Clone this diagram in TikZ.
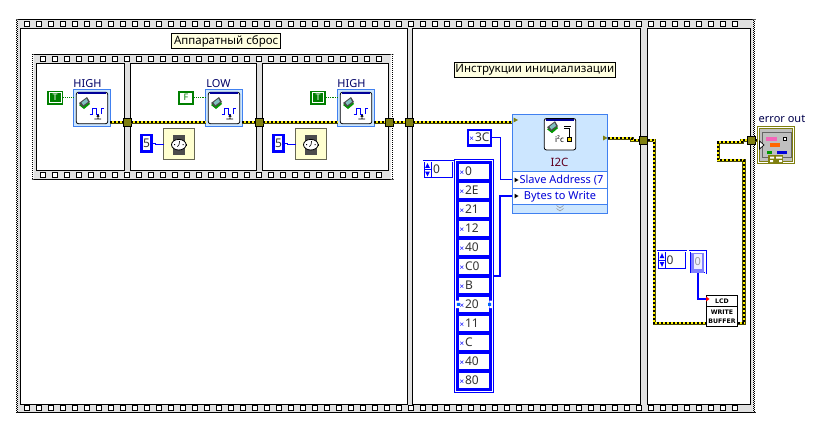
\documentclass[tikz,border=0pt]{standalone}
\usepackage{fontspec}
\setmainfont{Noto Sans}
\newfontfamily\lcdfont{DejaVu Sans}
\usetikzlibrary{positioning}
\definecolor{filmgray}{HTML}{E0E0E0}
\definecolor{tunolive}{HTML}{7F7F10}
\definecolor{frameblue}{HTML}{4080F0}
\definecolor{nodeblue}{HTML}{CCE6FF}
\definecolor{notepale}{HTML}{FFFFE1}
\definecolor{waitpale}{HTML}{FFFFD0}
\definecolor{boolgreen}{HTML}{007F00}
\newcommand{\hx}{\textcolor{blue}{\fontsize{8}{8}\selectfont×}\hspace{1pt}}
\newcommand{\chipglyph}{
    \fill[green!60!black] (-13,-3) -- (-5,-9) -- (-2,-4) -- (-8,1) -- cycle;
    \fill[black!70] (-13,-5) -- (-5,-11) -- (-2,-6) -- (-9,-1) -- cycle;
    \fill[teal!50] (-10.5,-5.5) -- (-5.5,-9.3) -- (-4,-6.2) -- (-8.7,-2.8) -- cycle;
}
\tikzset{
    tun/.style={draw=black, fill=tunolive, line width=0.5pt, minimum size=8.3pt, inner sep=0pt, outer sep=0pt},
    errwire/.style={preaction={draw=tunolive!60!black, solid, line width=3.6pt}, preaction={draw=yellow, solid, line width=2pt}, draw=black, line width=2pt, dash pattern=on 2pt off 2pt},
    numwire/.style={draw=blue, line width=0.9pt},
    arrwire/.style={draw=blue, line width=2pt},
    note/.style={draw=black, fill=notepale, line width=0.9pt, inner sep=0pt, minimum height=15pt, font=\fontsize{11.5}{12}\selectfont},
    vibox/.style={draw=frameblue, fill=nodeblue, line width=1pt, minimum size=36.4pt, inner sep=0pt, outer sep=0pt},
    numconst/.style={draw=blue, fill=white, line width=2.4pt, inner sep=0pt, outer sep=1.2pt, font=\fontsize{12}{12}\selectfont, text=black!80},
    booltrue/.style={draw=boolgreen, double=white, double distance=1pt, line width=1.5pt, fill=boolgreen, minimum width=11.7pt, minimum height=10pt, inner sep=0pt, outer sep=2pt, text=white, font=\fontsize{9}{9}\bfseries\selectfont},
    boolfalse/.style={draw=boolgreen, fill=white, line width=2.2pt, minimum width=13.6pt, minimum height=11.8pt, inner sep=0pt, outer sep=1.1pt, text=boolgreen, font=\fontsize{9}{9}\bfseries\selectfont},
    waitbox/.style={draw=black!60!waitpale, fill=waitpale, line width=1pt, minimum size=30.5pt, inner sep=0pt, outer sep=0pt},
    arrcell/.style={fill=white, minimum width=30pt, minimum height=15.3pt, inner sep=0pt, outer sep=0pt, text width=29.5pt, align=left, font=\fontsize{12}{12}\selectfont, text=black!80},
    indexbox/.style={draw=blue, fill=white, line width=0.7pt, double=white, double distance=0.8pt, inner sep=0pt, outer sep=0pt},
    label/.style={inner sep=0pt, text=black!60!blue, font=\fontsize{11}{11}\selectfont},
    rowbox/.style={draw=frameblue, fill=white, line width=0.9pt, minimum width=95.4pt, inner sep=0pt, outer sep=0pt, text=blue!85!black, font=\fontsize{11}{11}\selectfont},
    lcdbox/.style={draw=black, fill=white, line width=0.9pt, minimum width=31.4pt, inner sep=0pt, outer sep=0pt, align=center, font=\lcdfont\fontsize{6.2}{8.5}\bfseries\selectfont},
    pulseglyph/.pic={
        \draw[black, fill=white, rounded corners=2pt, line width=0.8pt] (-15.7,-15.7) rectangle (15.7,15.7);
        \fill[blue!60!black] (-14,-15.7) rectangle (14,-13.7);
        \chipglyph
        \draw[blue, line width=0.9pt] (-2.4,6) -- (0.5,6) -- (0.5,0.5) -- (4.5,0.5) -- (4.5,6) -- (7,6) (9,6) -- (9,0.5) -- (12.3,0.5);
        \draw[black, line width=0.8pt] (2.3,11) -- (9,11) (6,11) -- (6,7) (4.8,8.5) -- (6,7) -- (7.2,8.5);
    },
    watchglyph/.pic={
        \fill[black!70] (-6.3,-9.5) rectangle (6,10.5);
        \draw[black, fill=white, line width=0.8pt] (-0.2,0.5) ellipse (7.3 and 5.3);
        \fill[black] (7.2,-0.5) rectangle (8.4,1.5);
        \draw[black, line width=0.6pt] (0,0.5) -- (0.6,-3) (0,0.5) -- (-1.6,2.5);
        \fill[black] (-5,0) rectangle (-4,1) (3.5,0) rectangle (4.5,1);
    },
}

\begin{document}
\begin{tikzpicture}[x=1pt, y=-1pt, every node/.style={inner sep=0pt}]
    \useasboundingbox (0,0) rectangle (819,439);
    \fill[white] (0,0) rectangle (819,439);

    % outer film strip
    \fill[filmgray] (16,19.5) rectangle (756,412);
    \draw[black, line width=0.9pt] (16,19.5) -- (756,19.5) (16,412) -- (756,412);
    \fill[white] (16,19.5) rectangle (18,412) (752.5,19.5) rectangle (756,412);
    \draw[black, line width=1pt, dash pattern=on 1pt off 1pt] (16.5,19.5) -- (16.5,412) (753.5,19.5) -- (753.5,412);
    \draw[black, line width=1pt, dash pattern=on 1pt off 1pt, dash phase=1pt] (17.5,19.5) -- (17.5,412) (754.5,19.5) -- (754.5,412);
    \foreach \k in {0,...,59} {
        \draw[black, fill=white, line width=0.8pt] (24.8+12*\k,21.8) rectangle ++(4.4,4.4);
        \draw[black, fill=white, line width=0.8pt] (24.8+12*\k,405.8) rectangle ++(4.4,4.4);
    }
    \draw[black, fill=white, line width=0.9pt] (20.7,28) rectangle (407,404);
    \draw[black, fill=white, line width=0.9pt] (412.3,28) rectangle (640,404);
    \draw[black, fill=white, line width=0.9pt] (647.5,28) rectangle (750.7,404);

    % inner film strip
    \fill[filmgray] (31.7,54.3) rectangle (394,179.3);
    \draw[black, line width=0.9pt] (31.7,54.3) -- (394,54.3) (31.7,179.3) -- (394,179.3);
    \fill[white] (31.7,54.3) rectangle (33.5,179.3) (390.5,54.3) rectangle (394,179.3);
    \draw[black, line width=1pt, dash pattern=on 1pt off 1pt] (32.2,54.3) -- (32.2,179.3) (392,54.3) -- (392,179.3);
    \foreach \k in {0,...,28} {
        \draw[black, fill=white, line width=0.8pt] (40.8+12*\k,56.5) rectangle ++(4.4,4.4);
        \draw[black, fill=white, line width=0.8pt] (40.8+12*\k,172.5) rectangle ++(4.4,4.4);
    }
    \draw[black, fill=white, line width=0.9pt] (36,63.3) rectangle (124.3,170.7);
    \draw[black, fill=white, line width=0.9pt] (130,63.3) rectangle (256.7,170.7);
    \draw[black, fill=white, line width=0.9pt] (262.3,63.3) rectangle (388.3,170.7);

    \node[note, minimum width=109pt] (note_reset) at (226.2,41.3) {Аппаратный сброс};
    \node[note, minimum width=161pt] (note_init) at (534.8,69.7) {Инструкции инициализации};

    % digital write
    \node[vibox] (vi_high1) at (92,108) {};
    \node[vibox] (vi_low) at (224,108) {};
    \node[vibox] (vi_high2) at (356,108) {};
    \pic at (vi_high1) {pulseglyph};
    \pic at (vi_low) {pulseglyph};
    \pic at (vi_high2) {pulseglyph};
    \node[label, above=2pt of vi_high1, xshift=-4.5pt] (lab_high1) {HIGH};
    \node[label, above=2pt of vi_low, xshift=-5.5pt] (lab_low) {LOW};
    \node[label, above=2pt of vi_high2, xshift=-4.5pt] (lab_high2) {HIGH};

    \node[booltrue] (bool_t1) at (55.2,97.7) {T};
    \node[boolfalse] (bool_f) at (186,97.7) {F};
    \node[booltrue] (bool_t2) at (318,97.7) {T};
    \draw[boolgreen, line width=0.9pt, densely dotted] (bool_t1) -- (vi_high1.west |- bool_t1);
    \draw[boolgreen, line width=0.9pt, densely dotted] (bool_f) -- (vi_low.west |- bool_f);
    \draw[boolgreen, line width=0.9pt, densely dotted] (bool_t2) -- (vi_high2.west |- bool_t2);

    % tunnels
    \node[tun] (tun_a) at (127.3,122.3) {};
    \node[tun] (tun_b) at (259.3,122.3) {};
    \node[tun] (tun_c) at (389.3,122.3) {};
    \node[tun] (tun_d) at (409.3,122.3) {};
    \node[tun] (tun_e) at (643.5,140.4) {};
    \node[tun] (tun_f) at (751.3,140.4) {};

    % wait
    \node[numconst, minimum width=9.8pt, minimum height=16.2pt] (num_5a) at (146.5,143.3) {5};
    \node[numconst, minimum width=9.8pt, minimum height=16.2pt] (num_5b) at (278.5,143.3) {5};
    \node[waitbox] (wait_a) at (179,144.2) {};
    \node[waitbox] (wait_b) at (311,144.2) {};
    \pic at (wait_a) {watchglyph};
    \pic at (wait_b) {watchglyph};
    \draw[numwire] (num_5a.east) -- ++(3,0) |- (wait_a.west);
    \draw[numwire] (num_5b.east) -- ++(3,0) |- (wait_b.west);

    % i2c node
    \node[draw=frameblue, fill=nodeblue, line width=1pt, minimum width=95.4pt, minimum height=99.4pt, outer sep=0pt] (i2c_box) at (560,164) {};
    \node[rowbox, minimum height=17.2pt] (row_addr) at (560,179.7) {\hspace{3pt}Slave Address (7};
    \node[rowbox, minimum height=16pt, below=0pt of row_addr] (row_bytes) {Bytes to Write};
    \node[draw=black, fill=white, rounded corners=2pt, line width=0.8pt, minimum size=31.4pt, outer sep=0pt] (i2c_ico) at (560,134.2) {};
    \fill[blue!60!black] (546,118.5) rectangle (574,120.5);
    \begin{scope}[shift={(560,132.2)}]
        \chipglyph
    \end{scope}
    \node[font=\fontsize{8}{8}\selectfont] at (559.5,139.5) (i2c_txt) {i²c};
    \draw[black, line width=2.2pt] (564,127.5) -- (570,127.5) -- (570,137);
    \draw[white, line width=0.9pt] (564,127.5) -- (570,127.5) -- (570,137);
    \draw[black, fill=yellow!80!orange, line width=0.6pt] (567.5,137.5) rectangle (571.5,141.5);
    \node[label, font=\fontsize{11.5}{12}\selectfont, text=black!50!purple] (lab_i2c) at (559.5,162.5) {I2C};
    \draw[black!45, line width=0.5pt] (556.5,205.5) -- (560,208) -- (563.5,205.5) (556.5,208.5) -- (560,211) -- (563.5,208.5);
    \fill[tunolive] (513.5,117.5) -- (518,120) -- (513.5,122.5) -- cycle;
    \fill[tunolive] (603,135.5) -- (607.5,138) -- (603,140.5) -- cycle;
    \fill[black] (514.5,177.7) -- (518.5,180) -- (514.5,182.3) -- cycle;
    \fill[black] (514.5,193.7) -- (518.5,196) -- (514.5,198.3) -- cycle;

    % array of bytes
    \node[numconst, minimum width=23.2pt, minimum height=15.6pt] (num_3c) at (479.5,137.7) {\hx 3C};
    \node[indexbox, minimum width=29.1pt, minimum height=17.1pt] (idx_bytes) at (438.4,169.7) {};
    \node[font=\fontsize{12}{12}\selectfont, text=black!80] (idx_val) at (436.5,169.7) {0};
    \draw[blue, line width=0.7pt] (431,161.5) -- (431,178) (424,169.7) -- (431,169.7);
    \fill[blue] (427.5,163) -- (429.8,167.8) -- (425.2,167.8) -- cycle (427.5,176.5) -- (429.8,171.7) -- (425.2,171.7) -- cycle;
    \node[draw=blue, fill=white, line width=0.7pt, minimum width=39pt, minimum height=232.6pt, outer sep=0pt] (arr_body) at (474,275.8) {};
    \fill[blue] (455.7,160.7) rectangle (492.3,390.9);
    \node[arrcell] (cell_0) at (474.3,171.4) {\hx 0};
    \node[arrcell, below=3.7pt of cell_0] (cell_1) {\hx 2E};
    \node[arrcell, below=3.7pt of cell_1] (cell_2) {\hx 21};
    \node[arrcell, below=3.7pt of cell_2] (cell_3) {\hx 12};
    \node[arrcell, below=3.7pt of cell_3] (cell_4) {\hx 40};
    \node[arrcell, below=3.7pt of cell_4] (cell_5) {\hx C0};
    \node[arrcell, below=3.7pt of cell_5] (cell_6) {\hx B};
    \node[arrcell, below=3.7pt of cell_6] (cell_7) {\hx 20};
    \node[arrcell, below=3.7pt of cell_7] (cell_8) {\hx 11};
    \node[arrcell, below=3.7pt of cell_8] (cell_9) {\hx C};
    \node[arrcell, below=3.7pt of cell_9] (cell_10) {\hx 40};
    \node[arrcell, below=3.7pt of cell_10] (cell_11) {\hx 80};
    \fill[white] (455.7,300.5) rectangle (459.3,308) (489.3,300.5) rectangle (492.3,308);
    \fill[blue!60!cyan] (456.8,302.8) rectangle (459.8,305.8) (488.2,302.8) rectangle (491.2,305.8);
    \draw[numwire] (num_3c.east) -- ++(7.7,0) |- (row_addr.west);
    \draw[arrwire] (arr_body.east) -- ++(6.3,0) |- (row_bytes.west);

    % lcd buffer
    \node[indexbox, minimum width=28.4pt, minimum height=17.8pt] (idx_lcd) at (672,260) {};
    \node[font=\fontsize{12}{12}\selectfont, text=black!80] (idx_lcd_val) at (670,260) {0};
    \draw[blue, line width=0.7pt] (665.5,251.5) -- (665.5,268.5) (658.3,260) -- (665.5,260);
    \fill[blue] (662,253.2) -- (664.3,258) -- (659.7,258) -- cycle (662,266.8) -- (664.3,262) -- (659.7,262) -- cycle;
    \node[indexbox, minimum width=15.8pt, minimum height=22.1pt] (arr_lcd) at (697.7,262.2) {};
    \fill[blue!50!white] (691,252.6) rectangle (704.4,272.6);
    \node[fill=blue!6!white, minimum width=8pt, minimum height=15pt, text=black!40, font=\fontsize{11}{11}\selectfont] (arr_lcd_val) at (697.7,261.7) {0};
    \node[lcdbox, minimum height=11.4pt] (lcd_top) at (722,301) {LCD};
    \node[lcdbox, minimum height=20pt, below=0pt of lcd_top] (lcd_bot) {WRITE\\BUFFER};
    \coordinate (lcd_term) at (706.3,299);
    \draw[arrwire] (arr_lcd.south) |- (lcd_term);
    \fill[red] (706,296.5) -- (709.5,299) -- (706,301.5) -- cycle;

    % error out
    \node[draw=tunolive, fill=white, line width=1pt, minimum width=37.4pt, minimum height=37pt, outer sep=0pt] (err_ind) at (776,144.8) {};
    \node[draw=tunolive, fill=black!25, line width=1pt, minimum width=33pt, minimum height=32.6pt, outer sep=0pt] (err_in) at (776,144.8) {};
    \draw[black!60, line width=1pt] (762,132.7) rectangle (791,157.3);
    \fill[magenta!60!white] (766,137.3) rectangle (776.7,140.5);
    \draw[black, fill=white, line width=0.6pt] (783.3,137.3) rectangle (786.7,140.5);
    \fill[orange!80!red] (770,143.3) rectangle (780,146.6);
    \fill[green!60!black] (767.3,151) rectangle (771.7,154.3);
    \fill[blue!85!black] (777,151) rectangle (787,154.3);
    \fill[tunolive] (768.3,155) rectangle (783.3,162.7);
    \fill[white] (770,156.5) rectangle (774,158.5) (776,156.5) rectangle (782,158.5) (770,160) rectangle (773,162) (779,160) rectangle (782,162);
    \draw[black, fill=white, line width=0.7pt] (759.5,141) -- (764,145) -- (759.5,149) -- cycle;
    \node[label, anchor=west, text=black!70!blue] (lab_err) at (758.5,119) {error out};

    % error wires
    \draw[errwire] (vi_high1.east |- tun_a) -- (tun_a.west);
    \draw[errwire] (tun_a.east) -- (vi_low.west |- tun_a);
    \draw[errwire] (vi_low.east |- tun_b) -- (tun_b.west);
    \draw[errwire] (tun_b.east) -- (vi_high2.west |- tun_b);
    \draw[errwire] (vi_high2.east |- tun_c) -- (tun_c.west);
    \draw[errwire] (tun_c.east) -- (tun_d.west);
    \draw[errwire] (tun_d.east) -- (i2c_box.west |- tun_d);
    \draw[errwire] (i2c_box.east |- 0,138.3) -- (631.7,138.3) -- (631.7,140.4) -- (tun_e.west);
    \draw[errwire] (tun_e.east) -- (654.3,140.4) -- (654.3,323.3) -- (lcd_bot.west |- 0,323.3);
    \draw[errwire] (lcd_bot.east |- 0,323.3) -- (744.2,323.3) -- (744.2,160.3) -- (718.3,160.3) -- (718.3,142.3) -- (741.7,142.3) -- (741.7,140.4) -- (tun_f.west);
    \draw[errwire] (tun_f.east) -- (err_ind.west |- tun_f);
\end{tikzpicture}
\end{document}
